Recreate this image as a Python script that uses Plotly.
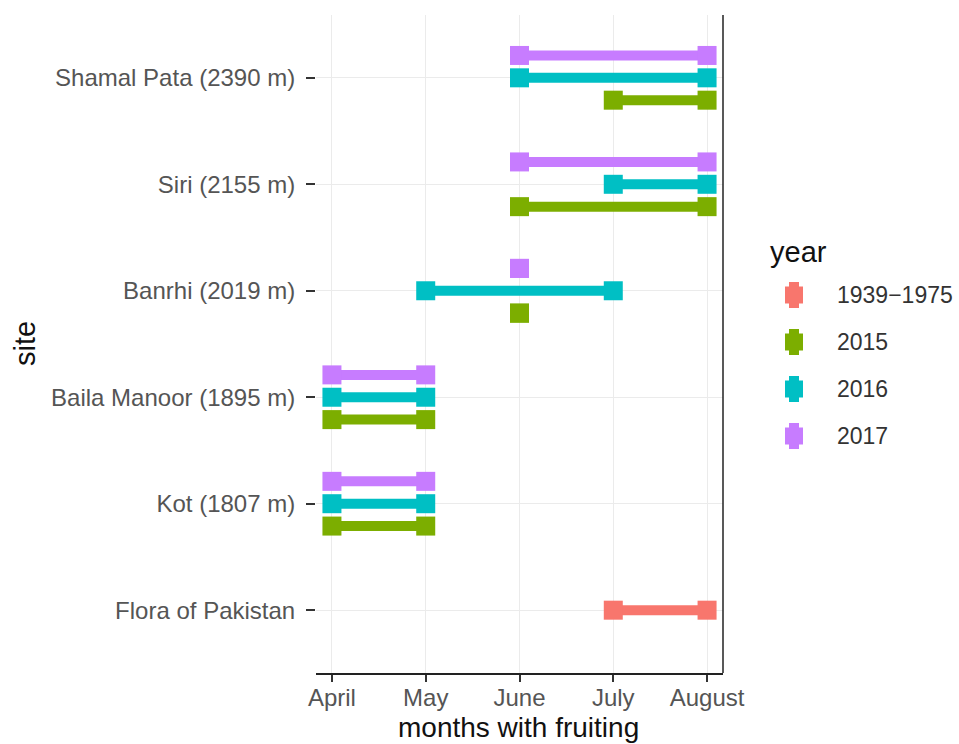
import plotly.graph_objects as go

# Sites from bottom to top of the y axis
sites = ["Flora of Pakistan", "Kot (1807 m)", "Baila Manoor (1895 m)",
         "Banrhi (2019 m)", "Siri (2155 m)", "Shamal Pata (2390 m)"]
months = ["April", "May", "June", "July", "August"]
years = ["1939\u22121975", "2015", "2016", "2017"]
year_colors = ["#F8766D", "#7CAE00", "#00BFC4", "#C77CFF"]

# Fruiting periods: one record per site/year, start and end month
rec_site = ["Shamal Pata (2390 m)", "Shamal Pata (2390 m)", "Shamal Pata (2390 m)",
            "Siri (2155 m)", "Siri (2155 m)", "Siri (2155 m)",
            "Banrhi (2019 m)", "Banrhi (2019 m)", "Banrhi (2019 m)",
            "Baila Manoor (1895 m)", "Baila Manoor (1895 m)", "Baila Manoor (1895 m)",
            "Kot (1807 m)", "Kot (1807 m)", "Kot (1807 m)",
            "Flora of Pakistan"]
rec_year = ["2017", "2016", "2015",
            "2017", "2016", "2015",
            "2017", "2016", "2015",
            "2017", "2016", "2015",
            "2017", "2016", "2015",
            "1939\u22121975"]
rec_start = ["June", "June", "July",
             "June", "July", "June",
             "June", "May", "June",
             "April", "April", "April",
             "April", "April", "April",
             "July"]
rec_end = ["August", "August", "August",
           "August", "August", "August",
           "June", "July", "June",
           "May", "May", "May",
           "May", "May", "May",
           "August"]

# vertical dodge of the year groups within a site
dodge = {"2017": 0.21, "2016": 0.0, "2015": -0.21, "1939\u22121975": 0.0}

FONT = "Liberation Sans, Arial, sans-serif"
W, H = 959, 744
L, R, T, B = 316, 236, 15, 71
PW, PH = W - L - R, H - T - B

fig = go.Figure()
for s, yr, a, b in zip(rec_site, rec_year, rec_start, rec_end):
    y = sites.index(s) + 1 + dodge[yr]
    col = year_colors[years.index(yr)]
    x0, x1 = months.index(a), months.index(b)
    fig.add_trace(go.Scatter(
        x=[x0, x1], y=[y, y], mode="lines+markers",
        line=dict(color=col, width=10),
        marker=dict(symbol="square", size=19, color=col, line=dict(width=0)),
        showlegend=False, hoverinfo="skip"))


def px_x(X):
    return (X - L) / PW


def px_y(Y):
    return (H - B - Y) / PH


shapes = [
    # right-hand panel border
    dict(type="line", xref="paper", yref="paper", x0=1, x1=1, y0=0, y1=1,
         line=dict(color="#222222", width=1.5)),
]
annotations = [
    dict(text="year", xref="paper", yref="paper", x=px_x(768), y=px_y(252),
         xanchor="left", yanchor="middle", showarrow=False,
         font=dict(family=FONT, size=29, color="#111111")),
    dict(text="site", xref="paper", yref="paper", x=px_x(25), y=0.5,
         xanchor="center", yanchor="middle", textangle=-90, showarrow=False,
         font=dict(family=FONT, size=29, color="#111111")),
    dict(text="months with fruiting", xref="paper", yref="paper",
         x=px_x(518), y=px_y(727), xanchor="center", yanchor="middle",
         showarrow=False, font=dict(family=FONT, size=28, color="#111111")),
]

# legend keys drawn as vertical line-range glyphs
for i, (yr, col) in enumerate(zip(years, year_colors)):
    cy = 295 + 47 * i
    cx = 794
    shapes.append(dict(type="rect", xref="paper", yref="paper",
                       x0=px_x(cx - 5), x1=px_x(cx + 5),
                       y0=px_y(cy + 13), y1=px_y(cy - 13),
                       fillcolor=col, line=dict(width=0)))
    shapes.append(dict(type="rect", xref="paper", yref="paper",
                       x0=px_x(cx - 9), x1=px_x(cx + 9),
                       y0=px_y(cy + 8.5), y1=px_y(cy - 8.5),
                       fillcolor=col, line=dict(width=0)))
    annotations.append(dict(text=yr, xref="paper", yref="paper",
                            x=px_x(835), y=px_y(cy), xanchor="left", yanchor="middle",
                            showarrow=False,
                            font=dict(family=FONT, size=23, color="#333333")))

fig.update_layout(
    width=W, height=H,
    margin=dict(l=L, r=R, t=T, b=B),
    paper_bgcolor="white", plot_bgcolor="white",
    font=dict(family=FONT, color="#4d4d4d"),
    shapes=shapes, annotations=annotations,
    xaxis=dict(
        range=[-0.17, 4.17], tickvals=list(range(len(months))), ticktext=months,
        showgrid=True, gridcolor="#ebebeb", gridwidth=1, zeroline=False,
        showline=True, linecolor="#222222", linewidth=1.5,
        ticks="outside", ticklen=7, tickcolor="#333333", tickwidth=1.5,
        ticklabelstandoff=-5,
        tickfont=dict(family=FONT, size=24, color="#555555"),
        automargin=False, fixedrange=True),
    yaxis=dict(
        range=[0.41, 6.59], tickvals=list(range(1, len(sites) + 1)), ticktext=sites,
        showgrid=True, gridcolor="#ebebeb", gridwidth=1, zeroline=False,
        showline=False,
        ticks="outside", ticklen=9, tickcolor="#333333", tickwidth=1.5,
        ticklabelstandoff=6,
        tickfont=dict(family=FONT, size=24, color="#555555"),
        automargin=False, fixedrange=True),
)

fig.write_html("out.html")
